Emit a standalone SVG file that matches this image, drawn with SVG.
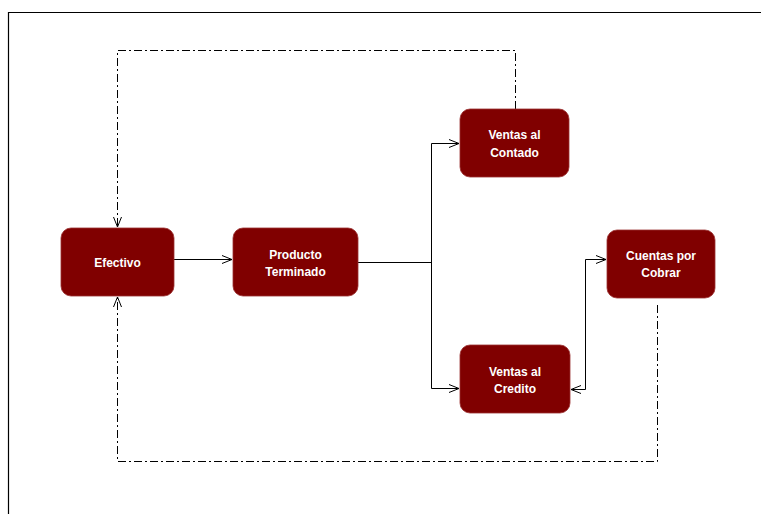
<svg xmlns="http://www.w3.org/2000/svg" width="761" height="514" viewBox="0 0 761 514">
<style>
.box{fill:#800000;stroke:#9a3030;stroke-width:0.8}
.lbl{font-family:"Liberation Sans",Arial,sans-serif;font-size:12px;font-weight:bold;fill:#ffffff;text-anchor:middle}
.ln{fill:none;stroke:#000;stroke-width:1}
.dd{fill:none;stroke:#000;stroke-width:1;stroke-dasharray:8,3,2,3}
</style>
<defs>
<marker id="arr" markerWidth="12" markerHeight="10" refX="11" refY="5" orient="auto" markerUnits="userSpaceOnUse">
<path d="M1,1 L11,5 L1,9" fill="none" stroke="#000" stroke-width="1"/>
</marker>
<marker id="arrs" markerWidth="12" markerHeight="10" refX="1" refY="5" orient="auto" markerUnits="userSpaceOnUse">
<path d="M11,1 L1,5 L11,9" fill="none" stroke="#000" stroke-width="1"/>
</marker>
</defs>
<rect x="0" y="0" width="761" height="514" fill="#fff"/>
<path d="M8.5,514 L8.5,12.5 L761,12.5" fill="none" stroke="#000" stroke-width="1.2"/>
<g id="connectors">
<line class="ln" x1="174" y1="259.5" x2="232" y2="259.5" marker-end="url(#arr)"/>
<path class="ln" d="M358,262.5 L431.5,262.5"/>
<path class="ln" d="M431.5,388.5 L431.5,143.5 L459,143.5" marker-end="url(#arr)"/>
<path class="ln" d="M431.5,388.5 L459,388.5" marker-end="url(#arr)"/>
<path class="ln" d="M571,389.5 L585.5,389.5 L585.5,259.5 L606,259.5" marker-start="url(#arrs)" marker-end="url(#arr)"/>
<path class="dd" d="M515.5,109 L515.5,50.5 L117.5,50.5 L117.5,227" marker-end="url(#arr)"/>
<path class="dd" d="M657.5,305 L657.5,461.5 L117.5,461.5 L117.5,297" marker-end="url(#arr)"/>
</g>
<g id="efectivo"><rect class="box" x="61" y="228" width="113" height="68" rx="10"/><text class="lbl" x="117.5" y="267">Efectivo</text></g>
<g id="producto"><rect class="box" x="233" y="228" width="125" height="68" rx="10"/><text class="lbl" x="295.5" y="259">Producto</text><text class="lbl" x="295.5" y="276">Terminado</text></g>
<g id="contado"><rect class="box" x="460" y="109" width="109" height="68" rx="10"/><text class="lbl" x="514.5" y="139">Ventas al</text><text class="lbl" x="514.5" y="157">Contado</text></g>
<g id="credito"><rect class="box" x="460" y="345" width="110" height="68" rx="10"/><text class="lbl" x="515" y="376">Ventas al</text><text class="lbl" x="515" y="393">Credito</text></g>
<g id="cuentas"><rect class="box" x="607" y="230" width="108" height="68" rx="10"/><text class="lbl" x="661" y="260">Cuentas por</text><text class="lbl" x="661" y="277">Cobrar</text></g>
</svg>
